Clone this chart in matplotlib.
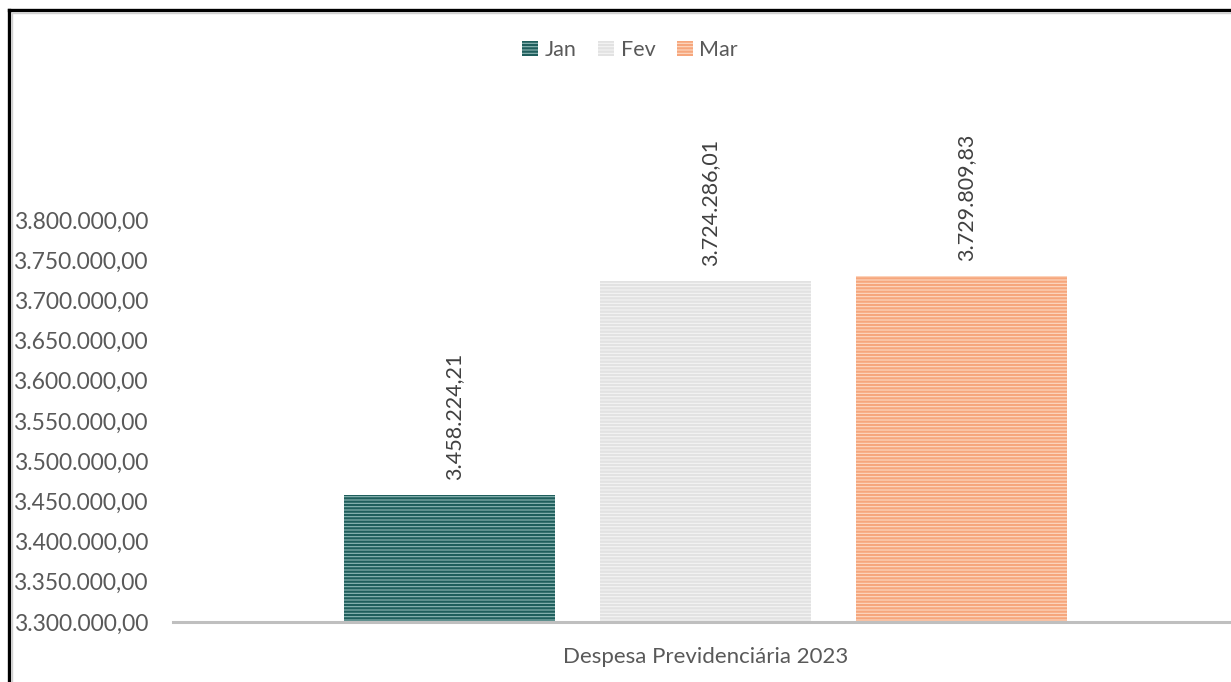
import matplotlib.pyplot as plt
from matplotlib.lines import Line2D
from matplotlib.patches import Patch
from matplotlib.ticker import FuncFormatter

# --- Data ---
months = ["Jan", "Fev", "Mar"]
values = [3458224.21, 3724286.01, 3729809.83]
value_labels = ["3.458.224,21", "3.724.286,01", "3.729.809,83"]
category = "Despesa Previdenciária 2023"
yticks = [3300000, 3350000, 3400000, 3450000, 3500000, 3550000,
          3600000, 3650000, 3700000, 3750000, 3800000]

# face colour / stripe colour for each month
faces = ["#8fb8b6", "#f4f4f4", "#fdd9c3"]
stripes = ["#1f5e5c", "#e2e2e2", "#f6a67c"]


def br_fmt(v, pos=None):
    s = f"{v:,.2f}"
    return s.replace(",", "X").replace(".", ",").replace("X", ".")


plt.rcParams["font.family"] = ["Lato", "DejaVu Sans"]
plt.rcParams["hatch.linewidth"] = 1.6

W, H = 1231, 682
fig = plt.figure(figsize=(W / 100, H / 100), dpi=100)

# axes placed in pixel units
left, right, bottom, top = 173, 1231, 622, 95
ax = fig.add_axes([left / W, 1 - bottom / H, (right - left) / W, (bottom - top) / H])

ymin = 3300000
ymax = ymin + (bottom - top) / 0.804 * 1000
ax.set_ylim(ymin, ymax)
ax.set_xlim(-(449.5 - left) / 256, (right - 449.5) / 256)

xs = list(range(len(months)))
for i, (m, v) in enumerate(zip(months, values)):
    ax.bar(xs[i], v - ymin, bottom=ymin, width=211 / 256, color=faces[i],
           edgecolor=stripes[i], hatch="-----", linewidth=0, label=m, zorder=2)
    ax.text(xs[i] + 0.02, v + 15 / 0.804 * 1000, value_labels[i], rotation=90,
            ha="center", va="bottom", fontsize=15.5, color="#404040")

ax.set_yticks(yticks)
ax.yaxis.set_major_formatter(FuncFormatter(br_fmt))
ax.tick_params(axis="y", length=0, labelsize=16.5, labelcolor="#595959", pad=18)
ax.set_xticks([])
for s in ["top", "right", "left"]:
    ax.spines[s].set_visible(False)
ax.spines["bottom"].set_color("#bfbfbf")
ax.spines["bottom"].set_linewidth(2.2)

ax.text(1, ymin - 35 / 0.804 * 1000, category, ha="center", va="center",
        fontsize=16, color="#595959")

handles = [Patch(facecolor=faces[i], edgecolor=stripes[i], hatch="-----",
                 linewidth=0, label=m) for i, m in enumerate(months)]
fig.legend(handles=handles, loc="center", bbox_to_anchor=(630 / W, 1 - 50 / H),
           ncol=3, frameon=False, fontsize=15.5, labelcolor="#595959",
           handlelength=0.75, handleheight=0.75, handletextpad=0.3,
           columnspacing=1.0)

# chart frame (black border on top/left with soft grey inner edge)
fig.add_artist(Line2D([9 / W, 9 / W], [0, 1 - 10 / H], color="black", lw=2.4,
                      transform=fig.transFigure))
fig.add_artist(Line2D([9 / W, 1], [1 - 10 / H, 1 - 10 / H], color="black", lw=2.4,
                      transform=fig.transFigure))
fig.add_artist(Line2D([11.5 / W, 11.5 / W], [0, 1 - 12.5 / H], color="#d0d0d0", lw=1,
                      transform=fig.transFigure))
fig.add_artist(Line2D([11.5 / W, 1], [1 - 12.5 / H, 1 - 12.5 / H], color="#d0d0d0", lw=1,
                      transform=fig.transFigure))

fig.savefig("out.png", dpi=100)
